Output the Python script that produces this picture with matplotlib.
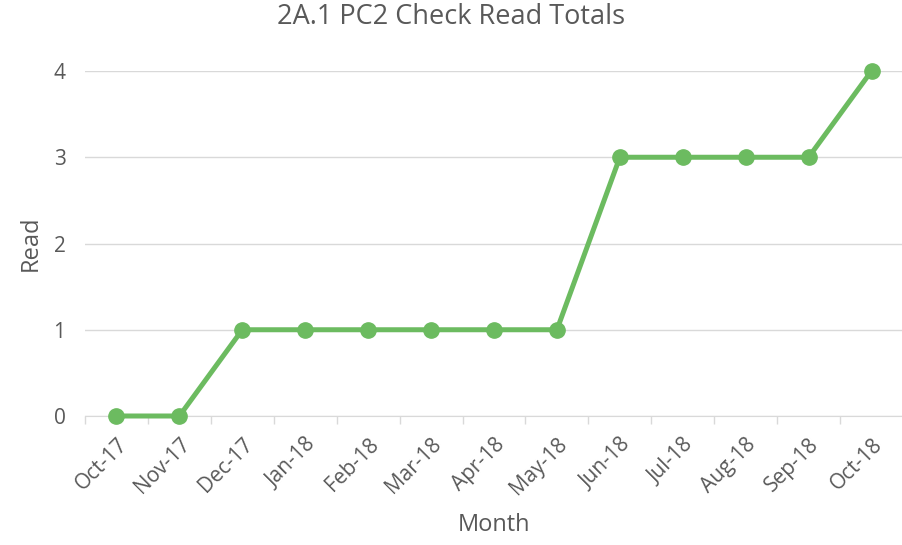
import matplotlib.pyplot as plt
import numpy as np

months = ["Oct-17", "Nov-17", "Dec-17", "Jan-18", "Feb-18", "Mar-18", "Apr-18",
          "May-18", "Jun-18", "Jul-18", "Aug-18", "Sep-18", "Oct-18"]
reads = [0, 0, 1, 1, 1, 1, 1, 1, 3, 3, 3, 3, 4]

txt = "#595959"
green = "#6cbb60"
plt.rcParams["font.family"] = ["Open Sans", "DejaVu Sans"]

fig = plt.figure(figsize=(9.03, 5.45), dpi=100)
ax = fig.add_axes([85 / 903, 1 - 416 / 545, 818 / 903, (416 - 71) / 545])

x = np.arange(len(months))
ax.plot(x, reads, color=green, linewidth=3.6, marker="o", markersize=11, zorder=3, clip_on=False)

ax.set_xlim(-0.5, len(months) - 1 + 0.45)
ax.set_ylim(0, 4)
ax.set_yticks([0, 1, 2, 3, 4])
ax.grid(axis="y", color="#d9d9d9", linewidth=1)
ax.set_axisbelow(True)

ax.set_xticks(x)
ax.set_xticklabels(months, rotation=45, ha="right", rotation_mode="anchor")
ax.set_xticks(np.arange(-0.5, len(months), 1), minor=True)
ax.tick_params(axis="x", which="major", length=0, pad=13, labelsize=15, labelcolor=txt)
ax.tick_params(axis="x", which="minor", length=6, color="#d9d9d9", width=1)
ax.tick_params(axis="y", length=0, pad=14, labelsize=15, labelcolor=txt)

for s in ["top", "right", "left"]:
    ax.spines[s].set_visible(False)
ax.spines["bottom"].set_color("#d9d9d9")

ax.set_xlabel("Month", fontsize=17, color=txt, labelpad=10)
ax.set_ylabel("Read", fontsize=17, color=txt, labelpad=8)
fig.suptitle("2A.1 PC2 Check Read Totals", fontsize=19.5, color=txt, y=0.995)

fig.savefig("out.png", dpi=100)
